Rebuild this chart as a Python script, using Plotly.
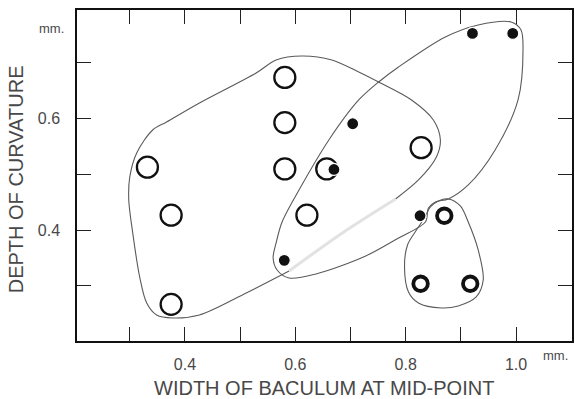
import plotly.graph_objects as go

# ---- data ----
open_x = [0.332, 0.375, 0.375, 0.581, 0.581, 0.581, 0.657, 0.621, 0.828]
open_y = [0.513, 0.427, 0.267, 0.674, 0.593, 0.510, 0.510, 0.427, 0.548]

small_x = [0.870, 0.827, 0.917]
small_y = [0.426, 0.304, 0.304]

dot_x = [0.921, 0.994, 0.704, 0.670, 0.580, 0.826]
dot_y = [0.753, 0.753, 0.591, 0.509, 0.346, 0.426]

# hand-drawn enclosing outlines (data units)
c1_x = [0.5887, 0.5111, 0.4263, 0.3776, 0.3487, 0.3307, 0.3180, 0.3054, 0.2982, 0.3000,
        0.3126, 0.3415, 0.3668, 0.4263, 0.5291, 0.5652, 0.6121, 0.6662, 0.7149, 0.7510,
        0.8106, 0.8502, 0.8629, 0.8557, 0.8232, 0.7817]
c1_y = [0.3269, 0.2875, 0.2480, 0.2426, 0.2480, 0.2695, 0.3161, 0.3951, 0.4543, 0.4955,
        0.5386, 0.5798, 0.5942, 0.6283, 0.6821, 0.7054, 0.7126, 0.7054, 0.6839, 0.6659,
        0.6336, 0.5978, 0.5619, 0.5314, 0.4901, 0.4561]
c1_faint_x = [0.7817, 0.6879, 0.5887]
c1_faint_y = [0.4561, 0.3969, 0.3269]

c2_x = [0.5887, 0.5670, 0.5598, 0.5652, 0.5760, 0.6067, 0.6608, 0.7149, 0.7510, 0.7871,
        0.8719, 0.9314, 0.9910, 1.0090, 1.0126, 1.0036, 0.9621, 0.9134, 0.8773, 0.8539,
        0.8412, 0.8358, 0.7871, 0.7276, 0.6374, 0.5887]
c2_y = [0.3144, 0.3287, 0.3502, 0.3771, 0.4148, 0.4722, 0.5619, 0.6336, 0.6659, 0.6928,
        0.7466, 0.7682, 0.7735, 0.7592, 0.7233, 0.6336, 0.5439, 0.4812, 0.4561, 0.4507,
        0.4399, 0.4148, 0.3861, 0.3538, 0.3215, 0.3144]

c3_x = [0.8773, 0.8990, 0.9134, 0.9314, 0.9405, 0.9278, 0.8953, 0.8647, 0.8232, 0.8051,
        0.7979, 0.8033, 0.8196, 0.8340, 0.8448, 0.8593, 0.8773]
c3_y = [0.4561, 0.4435, 0.4148, 0.3646, 0.3108, 0.2803, 0.2641, 0.2605, 0.2695, 0.2892,
        0.3341, 0.3735, 0.4004, 0.4220, 0.4417, 0.4525, 0.4561]

x_ticks = [0.3, 0.4, 0.5, 0.6, 0.7, 0.8, 0.9, 1.0]
x_ticktext = ["", "0.4", "", "0.6", "", "0.8", "", "1.0"]
y_ticks = [0.3, 0.4, 0.5, 0.6, 0.7]
y_ticktext = ["", "0.4", "", "0.6", ""]

FONT = "Liberation Sans"
TXT = "#484848"
CURVE = "#5a5a5a"

fig = go.Figure()

def outline(xs, ys, color=CURVE, width=1.1):
    fig.add_trace(go.Scatter(x=xs, y=ys, mode="lines",
                             line=dict(color=color, width=width, shape="spline", smoothing=0.9),
                             hoverinfo="skip", showlegend=False))

outline(c1_x, c1_y)
outline(c1_faint_x, c1_faint_y, color="#e2e2e2", width=3)
outline(c2_x, c2_y)
outline(c3_x, c3_y)

fig.add_trace(go.Scatter(x=open_x, y=open_y, mode="markers",
                         marker=dict(symbol="circle-open", size=21, color="#111111",
                                     line=dict(width=2.3, color="#111111")),
                         showlegend=False))
fig.add_trace(go.Scatter(x=small_x, y=small_y, mode="markers",
                         marker=dict(symbol="circle-open", size=14.5, color="#111111",
                                     line=dict(width=3.8, color="#111111")),
                         showlegend=False))
fig.add_trace(go.Scatter(x=dot_x, y=dot_y, mode="markers",
                         marker=dict(symbol="circle", size=12, color="#111111",
                                     line=dict(width=1.2, color="white")),
                         showlegend=False))

axis_common = dict(showline=True, linecolor="#111111", linewidth=1.5, mirror="ticks",
                   ticks="inside", ticklen=14, tickwidth=1.3, tickcolor="#222222",
                   showgrid=False, zeroline=False,
                   tickfont=dict(family=FONT, size=16, color=TXT))

fig.update_xaxes(range=[0.2044, 1.1014], tickvals=x_ticks, ticktext=x_ticktext,
                 ticklabelstandoff=8, **axis_common)
fig.update_yaxes(range=[0.2013, 0.795], tickvals=y_ticks, ticktext=y_ticktext,
                 ticklabelstandoff=12, **axis_common)

annos = [
    dict(text="DEPTH OF CURVATURE", x=-0.1227, y=0.4894, textangle=-90,
         font=dict(family=FONT, size=20, color=TXT)),
    dict(text="WIDTH OF BACULUM AT MID-POINT", x=0.499, y=-0.142,
         font=dict(family=FONT, size=20, color=TXT)),
    dict(text="mm.", x=-0.0523, y=0.9426, font=dict(family=FONT, size=13, color=TXT)),
    dict(text="mm.", x=0.9658, y=-0.0453, font=dict(family=FONT, size=13, color=TXT)),
]
for a in annos:
    fig.add_annotation(xref="paper", yref="paper", showarrow=False,
                       xanchor="center", yanchor="middle", **a)

fig.update_layout(width=575, height=399, margin=dict(l=77, r=1, t=10, b=58),
                  paper_bgcolor="white", plot_bgcolor="white")

fig.write_html("out.html")
